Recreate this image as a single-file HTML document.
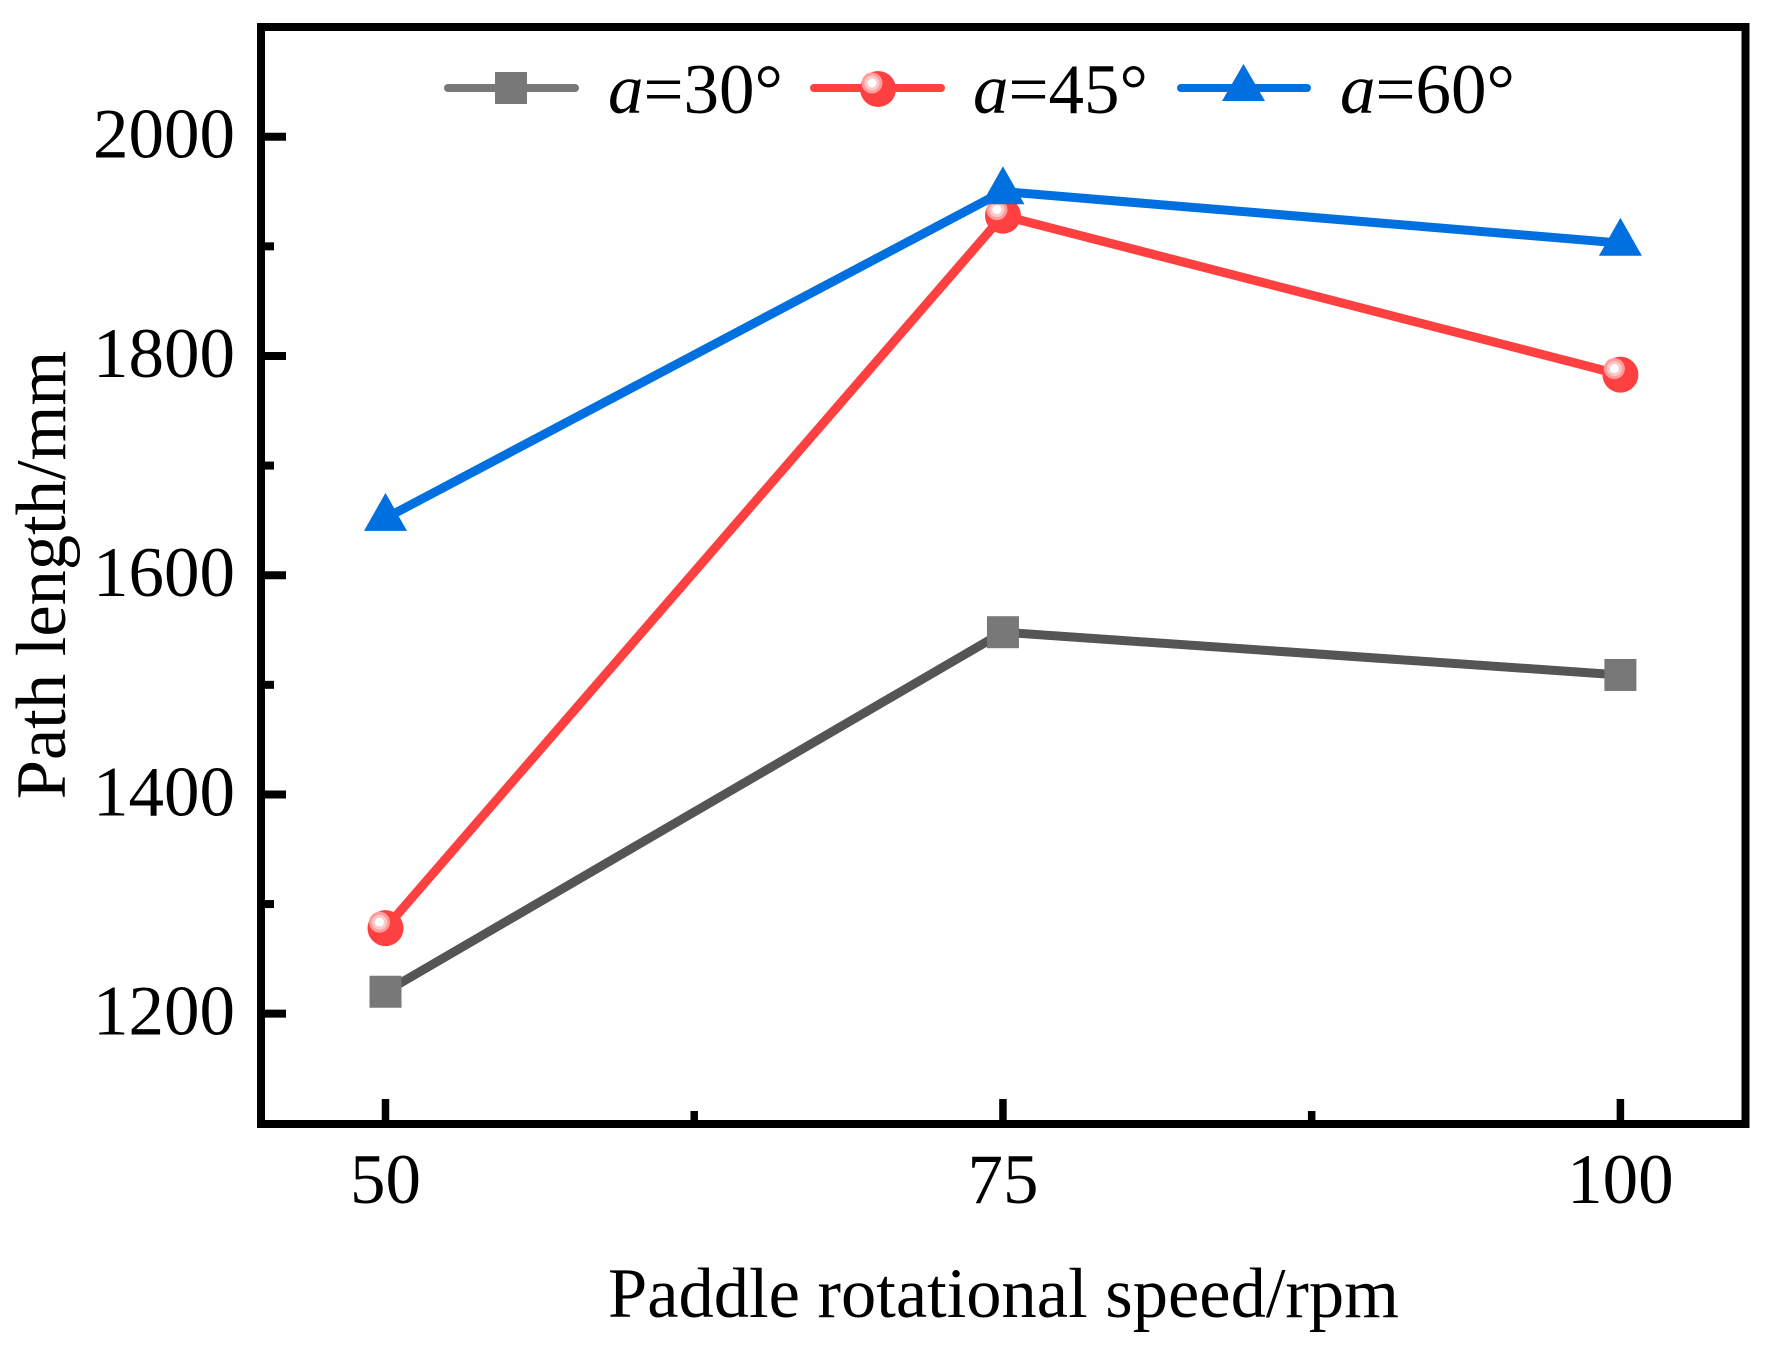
<!DOCTYPE html>
<html lang="en">
<head>
<meta charset="utf-8">
<title>Path length vs paddle rotational speed</title>
<style>
  html, body { margin: 0; padding: 0; background: #fff; width: 1777px; height: 1348px; overflow: hidden; }
  svg { display: block; }
  text { font-family: "Liberation Serif", "Times New Roman", serif; fill: #000; font-size: 71px; }
  .axis-title { font-size: 70.5px; }
</style>
</head>
<body>
<svg id="chart" xmlns="http://www.w3.org/2000/svg" width="1777" height="1348" viewBox="0 0 1777 1348">
  <rect x="0" y="0" width="1777" height="1348" fill="#fff"/>
  <g id="ticks"></g>
  <g id="series"></g>
  <rect x="261" y="27" width="1484.5" height="1097" fill="none" stroke="#000" stroke-width="8"/>
  <text class="axis-title" x="1003.5" y="1317" text-anchor="middle">Paddle rotational speed/rpm</text>
  <text class="axis-title" x="0" y="0" text-anchor="middle" transform="translate(65 575) rotate(-90)">Path length/mm</text>
  <g>
    <g>
      <line x1="448" y1="88" x2="575" y2="88" stroke="#787878" stroke-width="8" stroke-linecap="round"/>
      <rect x="495" y="72" width="32" height="32" fill="#787878"/>
      <text x="608" y="113"><tspan font-style="italic">a</tspan>=30°</text>
    </g>
    <g>
      <line x1="814" y1="88" x2="941" y2="88" stroke="#ff4040" stroke-width="8" stroke-linecap="round"/>
      <circle cx="878" cy="89" r="18" fill="#ff4040"/>
      <circle cx="872" cy="83" r="10.5" fill="#ff9c9c"/>
      <circle cx="872" cy="83" r="7.5" fill="#ffc8c8"/>
      <circle cx="872" cy="83" r="4.5" fill="#fff"/>
      <text x="973" y="113"><tspan font-style="italic">a</tspan>=45°</text>
    </g>
    <g>
      <line x1="1181" y1="88" x2="1307" y2="88" stroke="#0070e0" stroke-width="8" stroke-linecap="round"/>
      <polygon points="1243.5,64 1265,101 1222,101" fill="#0070e0"/>
      <text x="1340" y="113"><tspan font-style="italic">a</tspan>=60°</text>
    </g>
  </g>
</svg>
<script>
// Chart data
const speeds = [50, 75, 100];
const seriesA30 = [1220, 1548, 1509];
const seriesA45 = [1278, 1928, 1783];
const seriesA60 = [1652, 1950, 1903];
const xMajorTicks = [50, 75, 100];
const xMinorTicks = [62.5, 87.5];
const yMajorTicks = [1200, 1400, 1600, 1800, 2000];
const yMinorTicks = [1300, 1500, 1700, 1900];

// Axis functions
function xScale(v) { return 385.5 + (v - 50) * (1620.4 - 385.5) / 50; }
function yScale(v) { return 27.1 + (2100 - v) * (1123.3 - 27.1) / 1000; }

const NS = 'http://www.w3.org/2000/svg';
const ticksG = document.getElementById('ticks');
const seriesG = document.getElementById('series');

function make(tag, attrs, parent) {
  const n = document.createElementNS(NS, tag);
  for (const k in attrs) n.setAttribute(k, attrs[k]);
  parent.appendChild(n);
  return n;
}

// Ticks and tick labels
xMajorTicks.forEach(function (v) {
  const t = make('line', { x1: xScale(v), x2: xScale(v), y1: 1099, y2: 1122, stroke: '#000', 'stroke-width': 7.5 }, ticksG);
  
  
  const l = make('text', { x: xScale(v), y: 1203, 'text-anchor': 'middle' }, ticksG);
  
  
  l.textContent = String(v);
});
xMinorTicks.forEach(function (v) {
  const t = make('line', { x1: xScale(v), x2: xScale(v), y1: 1111, y2: 1122, stroke: '#000', 'stroke-width': 7.5 }, ticksG);
  
  
});
yMajorTicks.forEach(function (v) {
  const t = make('line', { x1: 263, x2: 286, y1: yScale(v), y2: yScale(v), stroke: '#000', 'stroke-width': 8 }, ticksG);
  
  
  const l = make('text', { x: 235, y: yScale(v) + 21, 'text-anchor': 'end' }, ticksG);
  
  
  l.textContent = String(v);
});
yMinorTicks.forEach(function (v) {
  const t = make('line', { x1: 263, x2: 274, y1: yScale(v), y2: yScale(v), stroke: '#000', 'stroke-width': 8 }, ticksG);
  
  
});

function linePoints(values) {
  return values.map(function (v, i) { return xScale(speeds[i]) + ',' + yScale(v); }).join(' ');
}

// Series a=30
const lineA30 = make('polyline', { points: linePoints(seriesA30), fill: 'none', stroke: '#555555', 'stroke-width': 9 }, seriesG);


seriesA30.forEach(function (v, i) {
  const m = make('rect', { x: xScale(speeds[i]) - 16, y: yScale(v) - 16, width: 32, height: 32, fill: '#787878' }, seriesG);
  
  
});

// Series a=45
const lineA45 = make('polyline', { points: linePoints(seriesA45), fill: 'none', stroke: '#ff4040', 'stroke-width': 9 }, seriesG);


seriesA45.forEach(function (v, i) {
  const cx = xScale(speeds[i]);
  const cy = yScale(v);
  const m = make('circle', { cx: cx, cy: cy, r: 18, fill: '#ff4040' }, seriesG);
  
  
  const g1 = make('circle', { cx: cx - 6, cy: cy - 6, r: 10.5, fill: '#ff9c9c' }, seriesG);
  
  
  const g2 = make('circle', { cx: cx - 6, cy: cy - 6, r: 7.5, fill: '#ffc8c8' }, seriesG);
  
  
  const g3 = make('circle', { cx: cx - 6, cy: cy - 6, r: 4.5, fill: '#fff' }, seriesG);
  
  
});

// Series a=60
const lineA60 = make('polyline', { points: linePoints(seriesA60), fill: 'none', stroke: '#0070e0', 'stroke-width': 9 }, seriesG);


seriesA60.forEach(function (v, i) {
  const cx = xScale(speeds[i]);
  const cy = yScale(v);
  const m = make('polygon', { points: cx + ',' + (cy - 25.3) + ' ' + (cx + 21.5) + ',' + (cy + 12.7) + ' ' + (cx - 21.5) + ',' + (cy + 12.7), fill: '#0070e0' }, seriesG);
  
  
});
</script>
</body>
</html>
